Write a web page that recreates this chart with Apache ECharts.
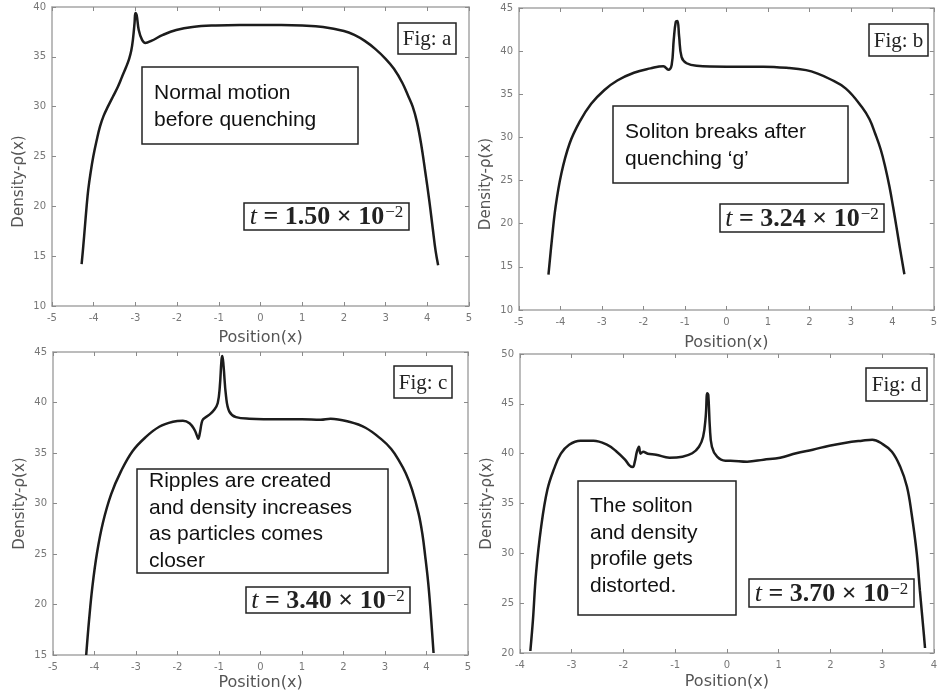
<!DOCTYPE html>
<html>
<head>
<meta charset="utf-8">
<script src="https://cdn.jsdelivr.net/npm/echarts@6/dist/echarts.min.js"></script>
<style>
html,body{margin:0;padding:0;background:#fff;}
#chart{width:940px;height:696px;}
</style>
</head>
<body>
<div id="chart"></div>
<script>
// ---- Data ----
const posA = [-4.29, -4.25, -4.21, -4.17, -4.13, -4.07, -4.01, -3.93, -3.85, -3.76, -3.66, -3.54, -3.42, -3.32, -3.22, -3.15, -3.1, -3.06, -3.02, -3.0, -2.97, -2.92, -2.84, -2.76, -2.62, -2.34, -2.02, -1.63, -1.07, -0.5, 0, 0.5, 1.0, 1.5, 2.0, 2.25, 2.5, 2.75, 3.0, 3.2, 3.4, 3.55, 3.65, 3.75, 3.85, 3.95, 4.05, 4.13, 4.2, 4.26];
const densA = [14.2, 16.0, 18.0, 20.0, 21.7, 23.5, 25.0, 26.6, 28.0, 29.1, 30.0, 31.0, 32.0, 33.0, 34.0, 34.8, 35.6, 36.7, 38.4, 39.4, 39.2, 37.7, 36.7, 36.4, 36.6, 37.2, 37.7, 38.0, 38.15, 38.2, 38.2, 38.2, 38.15, 38.0, 37.6, 37.2, 36.6, 35.8, 34.8, 33.8, 32.4, 31.0, 30.0, 28.5, 26.3, 23.5, 20.5, 17.8, 15.5, 14.1];

const posB = [-4.29, -4.21, -4.12, -3.98, -3.78, -3.54, -3.26, -2.94, -2.63, -2.23, -1.83, -1.52, -1.40, -1.32, -1.27, -1.22, -1.18, -1.14, -1.08, -0.96, -0.72, 0, 0.89, 1.5, 1.92, 2.2, 2.48, 2.88, 3.27, 3.45, 3.59, 3.72, 3.83, 3.93, 4.02, 4.1, 4.18, 4.29];
const densB = [14.1, 18.0, 21.9, 25.8, 29.3, 31.8, 33.9, 35.5, 36.6, 37.5, 38.0, 38.26, 37.85, 38.4, 41.3, 43.4, 43.5, 41.7, 39.3, 38.6, 38.3, 38.2, 38.2, 38.05, 37.8, 37.4, 36.8, 35.66, 33.5, 32.1, 30.4, 28.6, 26.55, 24.3, 21.9, 19.6, 17.25, 14.15];

const posC = [-4.2, -4.13, -4.05, -3.94, -3.80, -3.60, -3.36, -3.08, -2.76, -2.44, -2.11, -1.87, -1.71, -1.59, -1.53, -1.50, -1.46, -1.42, -1.38, -1.23, -1.11, -1.03, -0.98, -0.94, -0.92, -0.89, -0.83, -0.75, -0.59, -0.27, 0.5, 1.0, 1.45, 1.69, 2.13, 2.53, 2.93, 3.15, 3.33, 3.5, 3.65, 3.81, 3.9, 3.97, 4.04, 4.09, 4.17];
const densC = [15.0, 18.5, 21.8, 25.1, 28.05, 30.9, 33.2, 35.2, 36.6, 37.6, 38.1, 38.2, 37.95, 37.3, 36.7, 36.4, 37.0, 37.95, 38.35, 38.8, 39.3, 39.95, 41.6, 44.2, 44.6, 43.6, 40.6, 39.1, 38.55, 38.4, 38.35, 38.35, 38.3, 38.4, 38.1, 37.5, 36.3, 35.4, 34.3, 33.0, 31.4, 29.0, 27.0, 24.75, 22.2, 19.8, 15.2];

const posD = [-3.80, -3.75, -3.69, -3.59, -3.47, -3.34, -3.21, -3.05, -2.83, -2.58, -2.32, -2.13, -1.97, -1.88, -1.82, -1.78, -1.74, -1.70, -1.67, -1.62, -1.53, -1.37, -1.11, -0.86, -0.67, -0.54, -0.46, -0.41, -0.38, -0.36, -0.33, -0.29, -0.19, -0.03, 0.07, 0.39, 0.71, 1.03, 1.34, 1.66, 1.98, 2.30, 2.61, 2.81, 3.00, 3.19, 3.35, 3.48, 3.57, 3.67, 3.73, 3.80, 3.83];
const densD = [20.2, 23.3, 28.0, 32.7, 36.4, 38.5, 40.0, 40.9, 41.3, 41.3, 40.9, 40.2, 39.4, 38.8, 38.65, 39.2, 40.2, 40.7, 40.0, 40.2, 40.0, 39.9, 39.6, 39.7, 40.04, 40.7, 41.7, 43.7, 46.06, 45.9, 42.7, 40.7, 39.7, 39.3, 39.3, 39.2, 39.4, 39.6, 40.04, 40.4, 40.8, 41.1, 41.3, 41.4, 41.0, 40.2, 38.7, 36.7, 34.0, 30.0, 26.3, 22.3, 20.5];

const xRanges = [[-5, 5], [-5, 5], [-5, 5], [-4, 4]];
const yRanges = [[10, 40], [10, 45], [15, 45], [20, 50]];
const figLabels = ['Fig: a', 'Fig: b', 'Fig: c', 'Fig: d'];
const timeLabels = ['1.50', '3.24', '3.40', '3.70'];
const notes = [
  ['Normal motion', 'before quenching'],
  ['Soliton breaks after', 'quenching \u2018g\u2019'],
  ['Ripples are created', 'and density increases', 'as particles comes', 'closer'],
  ['The soliton', 'and density', 'profile gets', 'distorted.']
];
const xName = 'Position(x)';
const yName = 'Density-\u03c1(x)';

// ---- Layout ----
const grids = [
  {left: 52, top: 7, width: 417, height: 299},
  {left: 519, top: 8, width: 418, height: 302},
  {left: 53, top: 352, width: 415, height: 303},
  {left: 520, top: 354, width: 418, height: 299}
];
const xNameGaps = [24, 25, 20, 21];
const yNamePad = [[0, 50, 0, 0], [0, 50, 0, 0], [0, 0, 0, 0], [0, 0, 0, 0]];
const figBoxes = [[398, 23, 58, 31], [869, 24, 59, 32], [394, 366, 58, 32], [866, 368, 61, 33]];
const noteBoxes = [[142, 67, 216, 77, 154, 80], [613, 106, 235, 77, 625, 119], [137, 469, 251, 104, 149, 468], [578, 481, 158, 134, 590, 493]];
const tBoxes = [[244, 203, 165, 27], [720, 204, 164, 28], [246, 587, 164, 26], [749, 579, 165, 28]];

const seriesData = [
  posA.map((x, i) => [x, densA[i]]),
  posB.map((x, i) => [x, densB[i]]),
  posC.map((x, i) => [x, densC[i]]),
  posD.map((x, i) => [x, densD[i]])
];

const axisColor = '#a6a6a6';
const labelColor = '#777';
const xAxes = [], yAxes = [], series = [], graphics = [];

grids.forEach((g, i) => {
  const common = {
    gridIndex: i, type: 'value', splitLine: {show: false},
    axisLine: {onZero: false, lineStyle: {color: axisColor, width: 1.5}},
    axisTick: {inside: true, length: 4, lineStyle: {color: '#8a8a8a'}}
  };
  xAxes.push(Object.assign({}, common, {
    position: 'bottom', min: xRanges[i][0], max: xRanges[i][1], interval: 1,
    axisLabel: {color: labelColor, fontSize: 10, margin: 7, fontFamily: 'DejaVu Sans'},
    name: xName, nameLocation: 'middle', nameGap: xNameGaps[i],
    nameTextStyle: {color: '#555', fontSize: 16, fontFamily: 'DejaVu Sans'}
  }));
  xAxes.push(Object.assign({}, common, {
    position: 'top', min: xRanges[i][0], max: xRanges[i][1], interval: 1,
    axisLabel: {show: false}
  }));
  yAxes.push(Object.assign({}, common, {
    position: 'left', min: yRanges[i][0], max: yRanges[i][1], interval: 5,
    axisLabel: {color: labelColor, fontSize: 10, margin: 6, fontFamily: 'DejaVu Sans'},
    name: yName, nameLocation: 'middle', nameGap: 25,
    nameTextStyle: {color: '#555', fontSize: 15, fontFamily: 'DejaVu Sans', padding: yNamePad[i]}
  }));
  yAxes.push(Object.assign({}, common, {
    position: 'right', min: yRanges[i][0], max: yRanges[i][1], interval: 5,
    axisLabel: {show: false}
  }));
  series.push({
    type: 'line', xAxisIndex: 2 * i, yAxisIndex: 2 * i, data: seriesData[i],
    showSymbol: false, smooth: 0.4, clip: true,
    lineStyle: {color: '#1c1c1c', width: 2.5}
  });

  // Fig label box
  const fb = figBoxes[i];
  graphics.push({type: 'rect', shape: {x: fb[0], y: fb[1], width: fb[2], height: fb[3]},
    style: {fill: '#fff', stroke: '#222', lineWidth: 1.5}, z: 100});
  graphics.push({type: 'text', x: fb[0] + fb[2] / 2, y: fb[1] + fb[3] / 2 + 1, z: 101,
    style: {text: figLabels[i], fill: '#222', font: '21px "Liberation Serif"', textAlign: 'center', textVerticalAlign: 'middle'}});

  // Note box
  const nb = noteBoxes[i];
  graphics.push({type: 'rect', shape: {x: nb[0], y: nb[1], width: nb[2], height: nb[3]},
    style: {fill: '#fff', stroke: '#222', lineWidth: 1.5}, z: 100});
  graphics.push({type: 'text', x: nb[4], y: nb[5], z: 101,
    style: {text: notes[i].join('\n'), fill: '#111', font: '21px "Liberation Sans"', lineHeight: 26.5, textAlign: 'left', textVerticalAlign: 'top'}});

  // time box
  const tb = tBoxes[i];
  graphics.push({type: 'rect', shape: {x: tb[0], y: tb[1], width: tb[2], height: tb[3]},
    style: {fill: '#fff', stroke: '#222', lineWidth: 1.5}, z: 100});
  graphics.push({type: 'text', x: tb[0] + tb[2] / 2, y: tb[1] + tb[3] / 2 + 1, z: 101,
    style: {
      text: '{i|t}{n| = ' + timeLabels[i] + ' \u00d7 10}{s|\u22122}',
      textAlign: 'center', textVerticalAlign: 'middle',
      rich: {
        i: {font: 'italic 26px "Liberation Serif"', fill: '#222', lineHeight: 26},
        n: {font: 'bold 26px "Liberation Serif"', fill: '#222', lineHeight: 26},
        s: {font: '17px "Liberation Serif"', fill: '#222', lineHeight: 26, verticalAlign: 'top', padding: [0, 0, 10, 1]}
      }
    }});
});

const chart = echarts.init(document.getElementById('chart'), null, {renderer: 'canvas'});
chart.setOption({
  animation: false,
  backgroundColor: '#fff',
  grid: grids,
  xAxis: xAxes,
  yAxis: yAxes,
  series: series,
  graphic: graphics
});
</script>
</body>
</html>
